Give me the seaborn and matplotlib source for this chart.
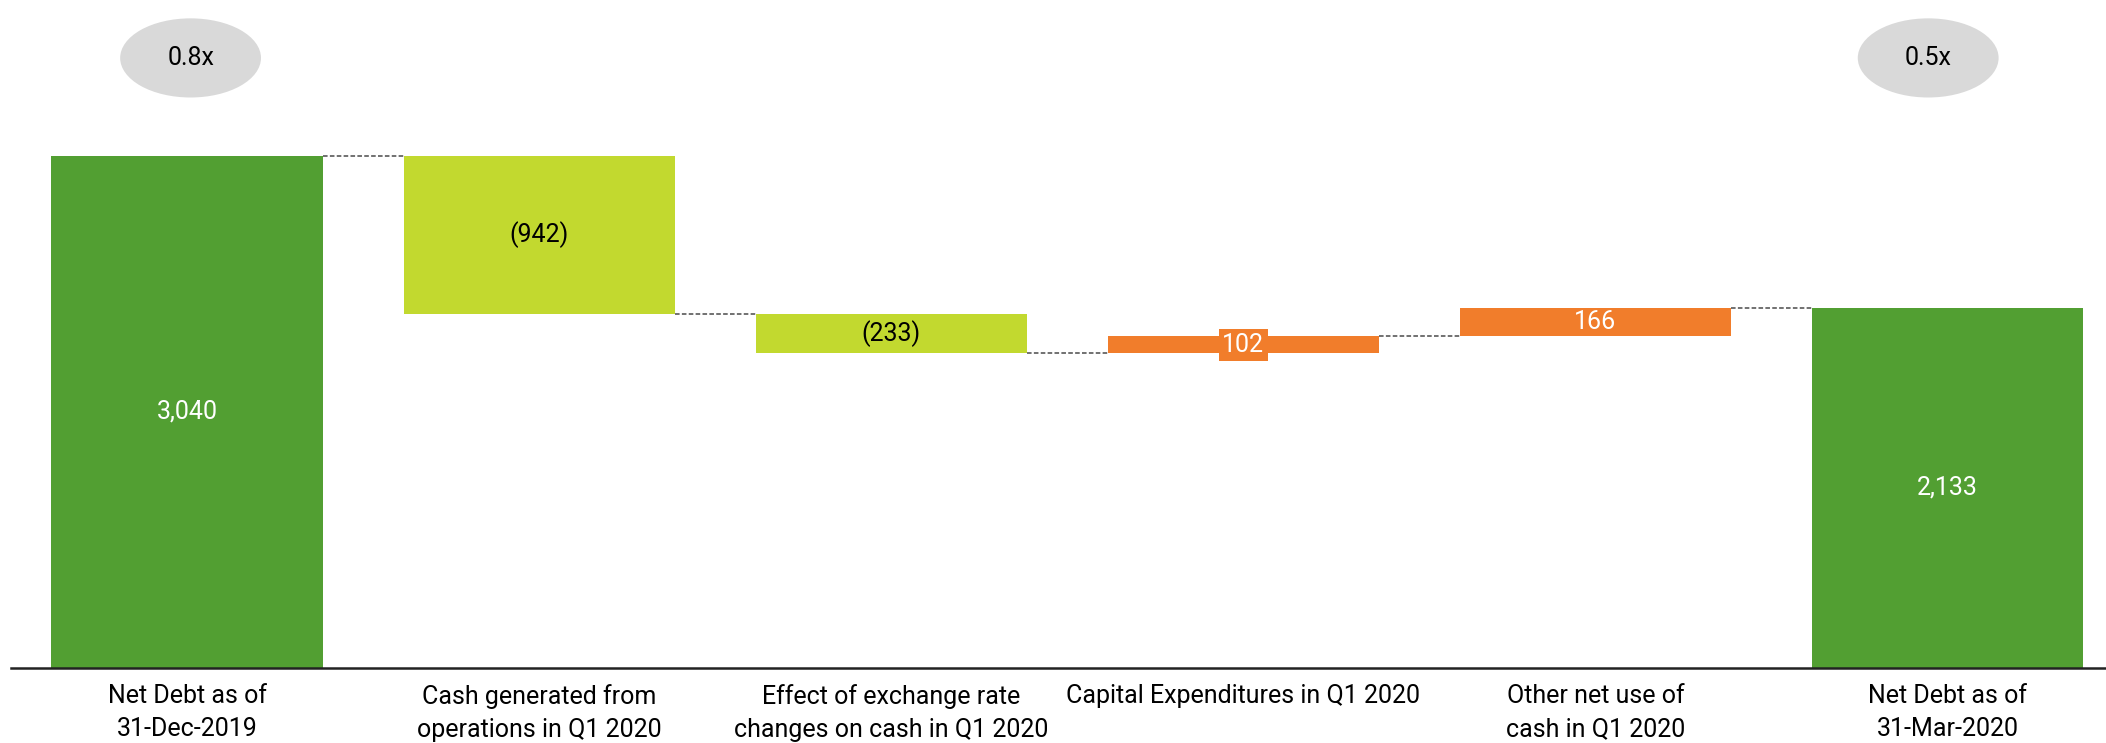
import matplotlib
matplotlib.use("Agg")
import matplotlib.pyplot as plt
from matplotlib.patches import Ellipse
import seaborn as sns
import pandas as pd
import numpy as np

# Net debt bridge, Q1 2020
categories = [
    "Net Debt as of\n31-Dec-2019",
    "Cash generated from\noperations in Q1 2020",
    "Effect of exchange rate\nchanges on cash in Q1 2020",
    "Capital Expenditures in Q1 2020",
    "Other net use of\ncash in Q1 2020",
    "Net Debt as of\n31-Mar-2020",
]
opening_debt = 3040
movements = [-942, -233, 102, 166]
closing_debt = 2133
value_labels = ["3,040", "(942)", "(233)", "102", "166", "2,133"]
leverage_labels = ["0.8x", "0.5x"]

DARK_GREEN = "#529F32"
LIGHT_GREEN = "#C2D92F"
ORANGE = "#F17D2B"
BUBBLE = "#D9D9D9"

# floating bar geometry for the waterfall
bottoms, heights, colors, running = [0], [opening_debt], [DARK_GREEN], opening_debt
levels = [opening_debt]
for m in movements:
    new = running + m
    bottoms.append(min(running, new))
    heights.append(abs(m))
    colors.append(LIGHT_GREEN if m < 0 else ORANGE)
    running = new
    levels.append(running)
bottoms.append(0)
heights.append(closing_debt)
colors.append(DARK_GREEN)

df = pd.DataFrame({"category": categories, "height": heights})

sns.set_theme(style="white")
plt.rcParams["font.family"] = ["Roboto", "DejaVu Sans"]

fig = plt.figure(figsize=(21.06, 7.43), dpi=100)
ax = fig.add_axes([11 / 2106, 75.5 / 743, 1 - 11 / 2106, 1 - 75.5 / 743])

BAR_W = 0.77
sns.barplot(data=df, x="category", y="height", order=categories, bottom=bottoms,
            width=BAR_W, ax=ax, errorbar=None, linewidth=0, color=DARK_GREEN,
            saturation=1)
for patch, c in zip(ax.patches, colors):
    patch.set_facecolor(c)
    patch.set_edgecolor("none")

# dashed connectors between consecutive bars
for i, lvl in enumerate(levels):
    ax.plot([i + BAR_W / 2, i + 1 - BAR_W / 2], [lvl, lvl], color="#4A4A4A",
            lw=1.1, ls=(0, (3, 1.5)), zorder=1)

# value labels inside the bars
for i, (b, h, lab, c) in enumerate(zip(bottoms, heights, value_labels, colors)):
    txt_color = "black" if c == LIGHT_GREEN else "white"
    kw = {}
    if h < 150:
        kw["bbox"] = dict(boxstyle="square,pad=0.15", fc=c, ec="none")
    ax.text(i, b + h / 2, lab, ha="center", va="center", color=txt_color,
            fontsize=18, zorder=4, **kw)

# leverage bubbles above the opening and closing bars
for xi, lab in zip([0.01, len(categories) - 1 - 0.055], leverage_labels):
    ax.add_patch(Ellipse((xi, 3620), width=0.40, height=470, facecolor=BUBBLE,
                         edgecolor="none", zorder=2))
    ax.text(xi, 3620, lab, ha="center", va="center", fontsize=18, color="black", zorder=3)

ax.set_xlim(-0.5, 5.45)
ax.set_ylim(0, 3964)
ax.set_xlabel("")
ax.set_ylabel("")
ax.set_yticks([])
ax.tick_params(axis="x", length=0, pad=12, labelsize=18, colors="black")
for lab in ax.get_xticklabels():
    lab.set_linespacing(1.45)
    lab.set_verticalalignment("top")
for s in ["top", "right", "left"]:
    ax.spines[s].set_visible(False)
ax.spines["bottom"].set_color("#222222")
ax.spines["bottom"].set_linewidth(1.8)

fig.savefig("out.png", dpi=100)
